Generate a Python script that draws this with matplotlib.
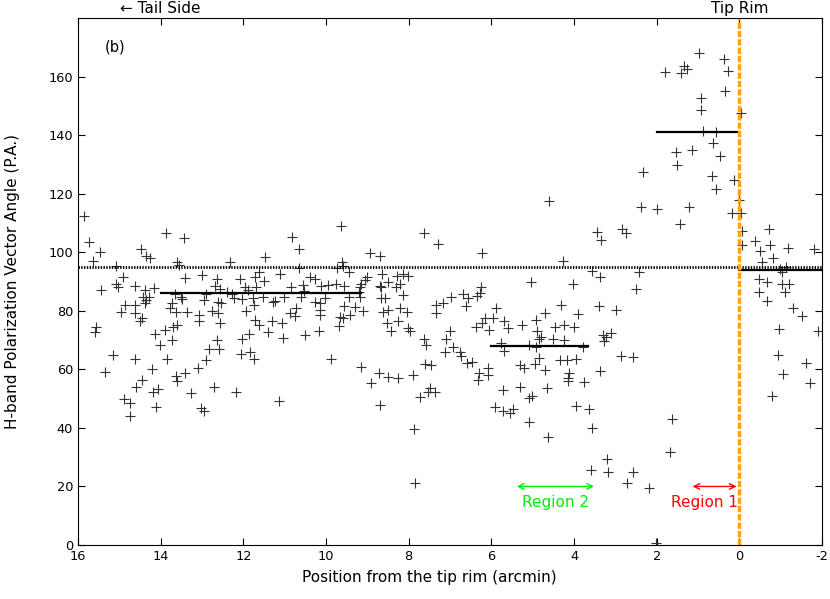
import numpy as np
import matplotlib
matplotlib.use('Agg')
import matplotlib.pyplot as plt

# Positionen (arcmin vom tip rim) und Polarisationswinkel (Grad)
pos_a = [15.86, 15.73, 15.46, 15.63, 13.87, 13.44, 14.48, 14.35, 14.25, 13.61, 13.56, 15.09, 13.0, 13.40,
         14.92, 15.44, 15.08, 15.03, 14.61, 14.39, 14.17, 13.66, 13.50, 14.43, 14.29, 14.35, 14.39, 13.48,
         13.72, 13.78, 13.64, 14.86, 14.63, 14.95, 14.63, 14.44, 14.49, 13.36, 13.07, 13.08, 15.56, 15.60,
         13.60, 13.70, 13.89, 14.13, 13.73, 14.01, 15.15, 14.61, 13.85, 14.20, 15.35, 13.10, 13.62, 13.40,
         13.60, 14.45, 14.59, 14.07, 14.19, 13.26, 14.89, 14.75, 14.11, 14.73, 13.02]
pa_a = [112.4, 103.6, 100.1, 96.9, 106.4, 104.7, 101.1, 98.6, 97.9, 96.5, 95.5, 95.2, 92.3, 91.1,
        91.4, 87.0, 89.1, 88.2, 88.6, 87.0, 87.7, 85.9, 84.7, 84.7, 84.7, 83.6, 82.8, 83.9,
        82.7, 80.8, 79.6, 81.9, 81.9, 79.6, 79.3, 77.7, 76.5, 79.6, 78.7, 76.6, 74.3, 72.8,
        75.3, 74.3, 73.6, 71.9, 70.0, 68.3, 64.8, 63.4, 63.7, 60.0, 59.1, 60.3, 57.7, 58.6,
        56.1, 56.3, 54.0, 53.2, 52.3, 51.8, 49.7, 48.4, 47.0, 44.0, 46.7]

pos_b = [10.82, 10.66, 12.33, 11.48, 10.66, 12.63, 12.68, 12.57, 12.09, 11.72, 11.62, 11.51, 11.11, 11.97,
         11.89, 11.69, 10.84, 10.56, 10.53, 10.38, 10.26, 10.11, 12.40, 12.27, 12.90, 12.23, 12.94, 12.61,
         12.53, 12.03, 11.77, 11.75, 11.52, 11.28, 11.24, 11.02, 10.60, 10.27, 10.15, 10.03, 12.77, 12.61,
         11.93, 10.72, 10.86, 10.76, 10.14, 10.14, 12.56, 11.72, 11.63, 11.30, 11.06, 11.40, 11.87, 12.03,
         11.04, 10.52, 10.18, 12.64, 12.83, 12.59, 11.85, 12.05, 11.75, 12.90, 12.72, 12.17, 11.14, 12.94]
pa_b = [105.1, 101.0, 96.6, 98.2, 94.6, 90.7, 88.6, 87.3, 91.0, 91.4, 93.3, 90.1, 92.5, 88.0,
        87.0, 88.2, 88.0, 88.7, 86.7, 91.6, 90.7, 88.5, 86.5, 85.9, 85.7, 84.5, 83.6, 83.0,
        82.7, 83.9, 84.2, 81.9, 84.7, 83.0, 83.4, 84.7, 84.7, 83.0, 82.7, 84.2, 80.0, 79.3,
        80.0, 81.1, 79.1, 78.2, 80.4, 78.5, 75.7, 76.8, 75.3, 76.5, 75.7, 72.8, 72.0, 70.5,
        70.8, 71.7, 73.1, 70.0, 67.1, 66.8, 66.0, 65.2, 63.4, 63.1, 53.8, 52.1, 49.1, 45.7]

pos_c = [9.64, 7.64, 7.28, 8.93, 8.70, 9.61, 9.59, 9.73, 9.45, 9.02, 9.05, 8.64, 8.50, 8.28,
         8.14, 8.02, 8.22, 8.30, 9.95, 9.77, 9.56, 9.18, 9.15, 9.21, 8.70, 8.66, 9.45, 9.18,
         8.66, 8.58, 8.14, 6.97, 9.56, 9.29, 9.10, 9.43, 9.67, 9.59, 9.69, 8.62, 8.50, 8.22,
         8.04, 7.33, 7.17, 7.33, 8.52, 8.42, 8.26, 8.02, 7.96, 7.64, 7.59, 7.01, 7.09, 7.13,
         9.87, 9.15, 8.72, 8.50, 8.26, 7.89, 8.92, 7.60, 7.45, 7.49, 7.53, 7.36, 7.72, 8.70,
         7.88, 7.84]
pa_c = [108.9, 106.7, 102.7, 99.8, 98.7, 96.5, 95.2, 94.5, 93.2, 91.4, 90.4, 92.5, 89.9, 91.8,
        92.7, 91.8, 89.3, 88.2, 88.7, 89.0, 88.4, 88.0, 89.3, 86.5, 88.4, 88.0, 84.7, 84.7,
        84.5, 84.5, 85.3, 84.7, 81.6, 81.3, 80.0, 78.7, 77.9, 77.4, 74.7, 79.6, 80.2, 80.8,
        79.6, 81.9, 82.5, 79.1, 75.7, 73.1, 76.6, 74.0, 73.1, 70.2, 68.3, 73.1, 70.5, 66.0,
        63.7, 60.9, 58.8, 57.4, 57.2, 58.0, 55.2, 61.8, 61.4, 53.5, 52.3, 52.1, 50.4, 47.8,
        39.5, 21.3]

pos_d = [4.60, 6.23, 4.27, 5.03, 4.02, 6.24, 6.28, 6.69, 6.56, 6.35, 6.62, 5.88, 4.31, 3.90,
         4.71, 6.16, 5.96, 6.22, 6.38, 6.06, 5.70, 5.60, 5.27, 4.93, 4.89, 4.79, 4.85, 4.51,
         4.45, 4.24, 4.00, 4.24, 5.76, 5.70, 5.09, 4.91, 6.93, 6.77, 6.73, 6.60, 6.46, 4.85,
         4.94, 5.31, 5.21, 4.69, 4.33, 4.17, 3.94, 4.13, 4.14, 4.14, 6.30, 6.08, 6.08, 6.32,
         5.72, 5.31, 4.65, 5.02, 5.09, 5.92, 5.72, 5.54, 5.48, 3.94, 5.09, 4.64]
pa_d = [117.4, 99.8, 96.9, 89.7, 89.0, 88.0, 86.1, 85.9, 84.5, 85.0, 81.6, 80.8, 81.9, 79.0,
        79.3, 77.7, 77.4, 75.7, 74.5, 73.6, 76.5, 74.0, 75.1, 77.0, 73.1, 70.9, 70.5, 70.5,
        74.5, 75.3, 74.3, 70.0, 69.0, 66.3, 68.3, 67.7, 67.5, 66.0, 64.6, 62.2, 62.4, 63.9,
        61.8, 61.4, 60.3, 59.7, 63.1, 63.1, 63.5, 58.8, 57.2, 56.0, 58.8, 60.3, 58.0, 56.3,
        52.9, 54.0, 53.5, 50.9, 50.1, 47.2, 45.8, 45.2, 46.3, 47.4, 42.1, 36.8]

pos_e = [0.98, 0.37, 0.27, 1.79, 1.40, 1.34, 1.26, 0.35, 0.92, 0.93, -0.05, 0.88, 0.56, 0.64,
         1.54, 1.14, 0.46, 1.51, 2.33, 0.65, 0.14, 0.57, 0.0, 2.39, 1.99, 1.22, 0.18, -0.05,
         1.43, 3.44, 3.35, 2.85, 2.73, -0.07, -0.07, 3.56, 2.43, 3.38, 2.51, 3.39, 2.99, 3.30,
         3.23, 3.27, 3.10, 3.78, 2.87, 2.57, 3.36, 3.76, 3.64, 3.56, 1.62, 1.67, 3.20, 3.60,
         3.18, 2.57, 2.71, 2.18, 2.01]
pa_e = [168.0, 165.9, 161.8, 161.5, 161.3, 163.5, 162.5, 155.0, 152.7, 148.5, 147.5, 141.3, 140.9, 137.4,
        134.2, 134.8, 132.9, 129.7, 127.4, 126.0, 124.6, 121.5, 118.0, 115.3, 114.7, 115.5, 113.5, 113.5,
        109.5, 106.9, 104.1, 108.1, 106.4, 107.2, 102.4, 93.5, 93.3, 91.4, 87.3, 81.6, 80.4, 71.7,
        70.9, 69.7, 72.5, 67.5, 64.6, 64.3, 59.5, 55.7, 46.3, 39.8, 42.9, 31.6, 29.4, 25.6,
        24.8, 24.8, 21.3, 19.3, 0.6]

pos_f = [-0.72, -0.38, -0.50, -0.74, -1.17, -1.81, -0.82, -0.56, -0.98, -1.12, -1.03, -0.48, -0.66, -1.04,
         -1.19, -1.11, -0.48, -0.66, -1.31, -1.51, -0.96, -1.91, -0.94, -1.61, -1.06, -1.71, -0.80]
pa_f = [108.1, 103.8, 100.3, 102.4, 101.5, 101.0, 98.1, 96.7, 94.4, 95.0, 93.3, 91.0, 89.9, 89.3,
        89.3, 86.5, 86.5, 83.3, 80.8, 78.2, 73.7, 73.1, 64.8, 62.2, 58.3, 55.2, 50.9]

# Mittelwerte der Regionen: (von, bis, Winkel)
mean_segments = [(14.0, 9.15, 86.0), (6.0, 3.65, 68.0), (2.0, 0.0, 141.0), (0.0, -2.0, 94.0)]
overall_mean = 95.0

xs = np.array(pos_a + pos_b + pos_c + pos_d + pos_e + pos_f)
ys = np.array(pa_a + pa_b + pa_c + pa_d + pa_e + pa_f)

plt.rcParams['font.family'] = 'DejaVu Sans'
plt.rcParams['axes.unicode_minus'] = False
fig = plt.figure(figsize=(8.30, 5.99), dpi=100)
ax = fig.add_axes([78 / 830, 54 / 599, 744 / 830, 527 / 599])

ax.plot(xs, ys, linestyle='none', marker='+', markersize=7, markeredgewidth=0.8, color='#333333')

ax.axhline(overall_mean, color='black', lw=2.0, linestyle=(0, (0.5, 0.5)))
for x0, x1, y in mean_segments:
    ax.plot([x0, x1], [y, y], color='black', lw=1.6)
ax.axvline(0, color='#FFA500', lw=2.5, linestyle=(0, (1.8, 0.6)))

# Regionen
ax.annotate('', xy=(3.45, 20), xytext=(5.45, 20),
            arrowprops=dict(arrowstyle='<->', color='#00EE00', lw=1.0))
ax.text(4.45, 14.5, 'Region 2', color='#00EE00', ha='center', va='center', fontsize=11)
ax.annotate('', xy=(0.0, 20), xytext=(1.2, 20),
            arrowprops=dict(arrowstyle='<->', color='red', lw=1.0))
ax.text(0.85, 14.5, 'Region 1', color='red', ha='center', va='center', fontsize=11)

ax.text(15.1, 170, '(b)', ha='center', va='center', fontsize=10.5)
ax.text(14.0, 1.018, '\u2190 Tail Side', transform=ax.get_xaxis_transform(),
        ha='center', va='center', fontsize=11)
ax.text(0.0, 1.018, 'Tip Rim', transform=ax.get_xaxis_transform(),
        ha='center', va='center', fontsize=11)

ax.set_xlim(16, -2)
ax.set_ylim(0, 180)
ax.set_xticks(np.arange(16, -3, -2))
ax.set_yticks(np.arange(0, 161, 20))
ax.tick_params(direction='in', top=True, right=True, length=5, labelsize=9.3)
ax.set_xlabel('Position from the tip rim (arcmin)', fontsize=11)
ax.set_ylabel('H-band Polarization Vector Angle (P.A.)', fontsize=11)
ax.xaxis.set_label_coords(0.472, -0.048)
ax.yaxis.set_label_coords(-0.078, 0.5)

fig.savefig('out.png', dpi=100)
